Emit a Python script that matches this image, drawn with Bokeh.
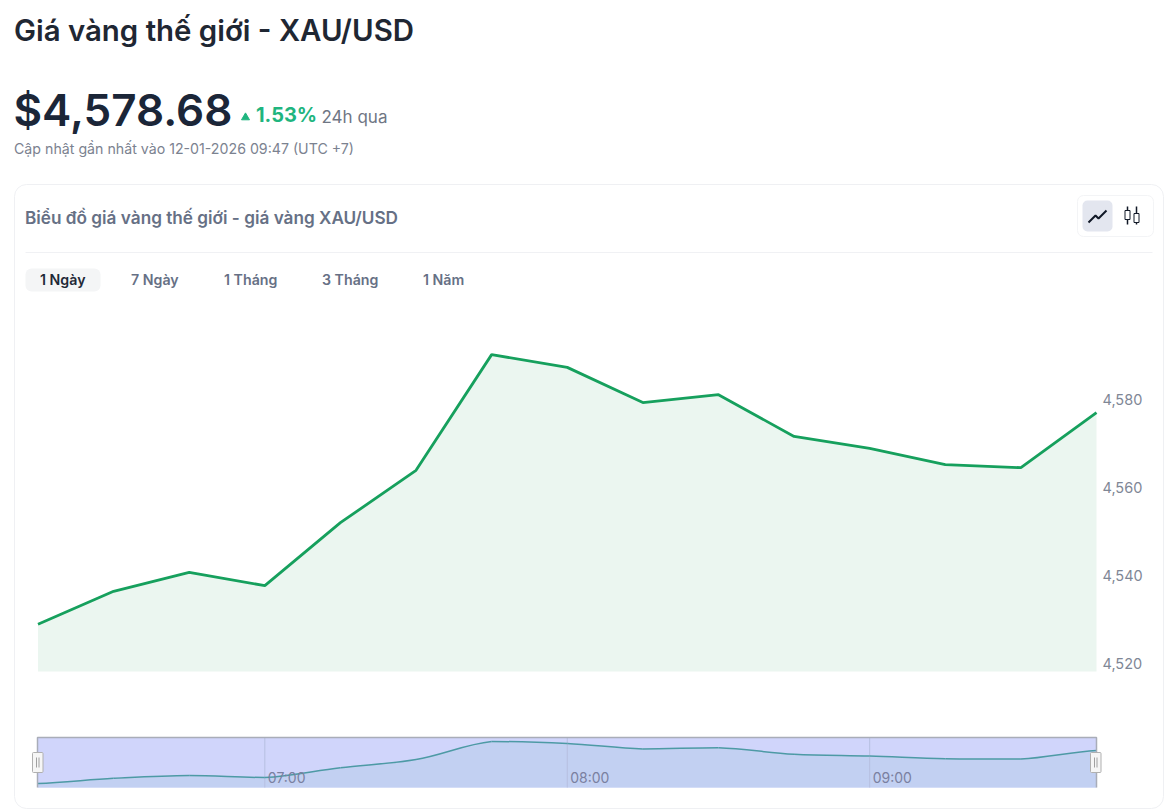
from bokeh.embed import file_html
from bokeh.models import Label, LinearAxis, NumeralTickFormatter, FixedTicker, Range1d
from bokeh.plotting import figure
from bokeh.resources import INLINE

# price series, one point every 15 minutes
times = ["06:15", "06:30", "06:45", "07:00", "07:15", "07:30", "07:45", "08:00",
         "08:15", "08:30", "08:45", "09:00", "09:15", "09:30", "09:45"]
prices = [4528.9, 4536.4, 4540.7, 4537.7, 4552.0, 4563.9, 4590.2, 4587.3,
          4579.3, 4581.1, 4571.6, 4568.9, 4565.2, 4564.5, 4577.0]
y_ticks = [4520, 4540, 4560, 4580]
nav_ticks = ["07:00", "08:00", "09:00"]
tabs = ["1 Ngày", "7 Ngày", "1 Tháng", "3 Tháng", "1 Năm"]
tab_x = [39.5, 130.5, 223.5, 321.5, 422.5]

# the page puts the figure at 0,0 so the full window is available
WIDTH, HEIGHT = 1168, 812
FONT = "Inter"
FONT_SEMI = "Inter SemiBold"
GREEN = "#16a05d"
GREY = "#667085"


def minutes(t):
    h, m = t.split(":")
    return int(h) * 60 + int(m)


xs = [minutes(t) for t in times]

# the frame fills the canvas, ranges are worked out so the chart lands on the right pixels
x_scale = (1096 - 37.5) / (xs[-1] - xs[0])
x_range = Range1d(xs[0] - 37.5 / x_scale, xs[-1] + (WIDTH - 1096) / x_scale)
y_scale = 4.4
y_range = Range1d(4520 - (HEIGHT - 663) / y_scale, 4520 + 663 / y_scale)
nav_scale = 0.685
nav_value = lambda py: 4528.9 + (783 - py) / nav_scale

p = figure(width=WIDTH, height=HEIGHT, x_range=x_range, y_range=y_range,
           x_axis_type=None, y_axis_type=None, output_backend="svg",
           toolbar_location=None, min_border=0, outline_line_color=None,
           background_fill_color="white", border_fill_color="white")
p.extra_x_ranges["px"] = Range1d(0, WIDTH)
p.extra_y_ranges["px"] = Range1d(HEIGHT, 0)
p.extra_y_ranges["nav"] = Range1d(nav_value(HEIGHT), nav_value(0))


def text(x, y, s, size, color, style="normal", font=FONT):
    p.add_layout(Label(x=x, y=y, text=s, x_range_name="px", y_range_name="px",
                       text_font=font, text_font_size=f"{size}px", text_font_style=style,
                       text_color=color, text_baseline="middle", text_align="left"))


def box(left, right, top, bottom, fill, line=None, radius=0):
    p.quad(left=left, right=right, top=top, bottom=bottom, fill_color=fill, line_color=line,
           border_radius=radius, x_range_name="px", y_range_name="px")


# header
text(13.5, 30, "Giá vàng thế giới - XAU/USD", 29.4, "#1f2733", font=FONT_SEMI)
text(13, 109, "$4,578.68", 44, "#1b2638", font=FONT_SEMI)
p.scatter([245], [117], marker="triangle", size=8, color="#1fb57f", x_range_name="px", y_range_name="px")
text(255.5, 114, "1.53%", 20, "#1fb57f", "bold")
text(321, 116, "24h qua", 17, "#6f7684")
text(13.5, 148, "Cập nhật gần nhất vào 12-01-2026 09:47 (UTC +7)", 14.2, "#7b8290")

# card
box(14, 1163, 184, 808, "white", "#eff0f3", 12)
text(24.5, 217, "Biểu đồ giá vàng thế giới - giá vàng XAU/USD", 17.2, GREY, font=FONT_SEMI)
p.line([25, 1152], [252, 252], color="#f0f1f4", line_width=1, x_range_name="px", y_range_name="px")

# chart type buttons
box(1077, 1153, 195, 236, "white", "#f3f4f6", 6)
box(1082, 1112, 200, 231, "#e3e6ef", None, 5)
p.line([1088, 1095, 1098, 1106], [222, 215, 218, 210], color="#111827", line_width=2,
       x_range_name="px", y_range_name="px")
p.segment([1127, 1136], [206, 206], [1127, 1136], [224, 224], color="#111827", line_width=1.5,
          x_range_name="px", y_range_name="px")
box([1124.5, 1133.5], [1129.5, 1138.5], [210, 213], [219, 222], "white", "#111827")

# period tabs
box(25, 100, 268, 291, "#f4f5f6", None, 6)
for i, (tab, tx) in enumerate(zip(tabs, tab_x)):
    text(tx, 279, tab, 14.2, "#1f2937" if i == 0 else GREY, font=FONT_SEMI)

# main chart
p.varea(xs, y1=[4518.2] * len(xs), y2=prices, color="#ebf6f0")
p.line(xs, prices, color=GREEN, line_width=2.8)

axis = LinearAxis(fixed_location=xs[-1], ticker=FixedTicker(ticks=y_ticks),
                  formatter=NumeralTickFormatter(format="0,0"),
                  axis_line_color=None, major_tick_line_color=None, minor_tick_line_color=None,
                  major_tick_out=0, major_tick_in=0, minor_tick_out=0,
                  major_label_text_color="#7f8796", major_label_text_font=FONT,
                  major_label_text_font_size="14.5px", major_label_standoff=6)
p.add_layout(axis, "right")

# navigator
box(37, 1096, 737, 787, "#d0d5fb")
p.varea(xs, y1=[nav_value(787)] * len(xs), y2=prices, color="#c2d0f2", y_range_name="nav")
for t in nav_ticks:
    p.segment([minutes(t)], [737], [minutes(t)], [787], color="#b6bfe0", line_width=1, y_range_name="px")
    p.add_layout(Label(x=minutes(t), y=777, text=t, x_offset=3, y_range_name="px",
                       text_font=FONT, text_font_size="14px", text_color="#7a80a0", text_baseline="middle"))

# smoothed overview line, control points taken from neighbouring values
n = len(xs)
cx0, cy0, cx1, cy1 = [], [], [], []
for i in range(n - 1):
    prev_y = prices[max(i - 1, 0)]
    next_y = prices[min(i + 2, n - 1)]
    lo, hi = min(prices[i], prices[i + 1]), max(prices[i], prices[i + 1])
    dx = xs[i + 1] - xs[i]
    cx0.append(xs[i] + dx * 0.35)
    cy0.append(min(max(prices[i] + (prices[i + 1] - prev_y) * 0.17, lo), hi))
    cx1.append(xs[i + 1] - dx * 0.35)
    cy1.append(min(max(prices[i + 1] - (next_y - prices[i]) * 0.17, lo), hi))
p.bezier(xs[:-1], prices[:-1], xs[1:], prices[1:], cx0, cy0, cx1, cy1,
         line_color="#4d9aa5", line_width=1.5, y_range_name="nav")

# navigator frame and handles
p.line([37, 37, 1096, 1096], [787, 737, 737, 787], color="#a9adb8", line_width=1.5,
       x_range_name="px", y_range_name="px")
for left in [32, 1090]:
    box(left, left + 10.5, 752, 772, "#f6f6f6", "#b0b0b0", 1)
    p.segment([left + 4, left + 6.5], [757, 757], [left + 4, left + 6.5], [767, 767],
              color="#a0a0a0", line_width=1, x_range_name="px", y_range_name="px")

open("out.html", "w").write(file_html(p, INLINE))
